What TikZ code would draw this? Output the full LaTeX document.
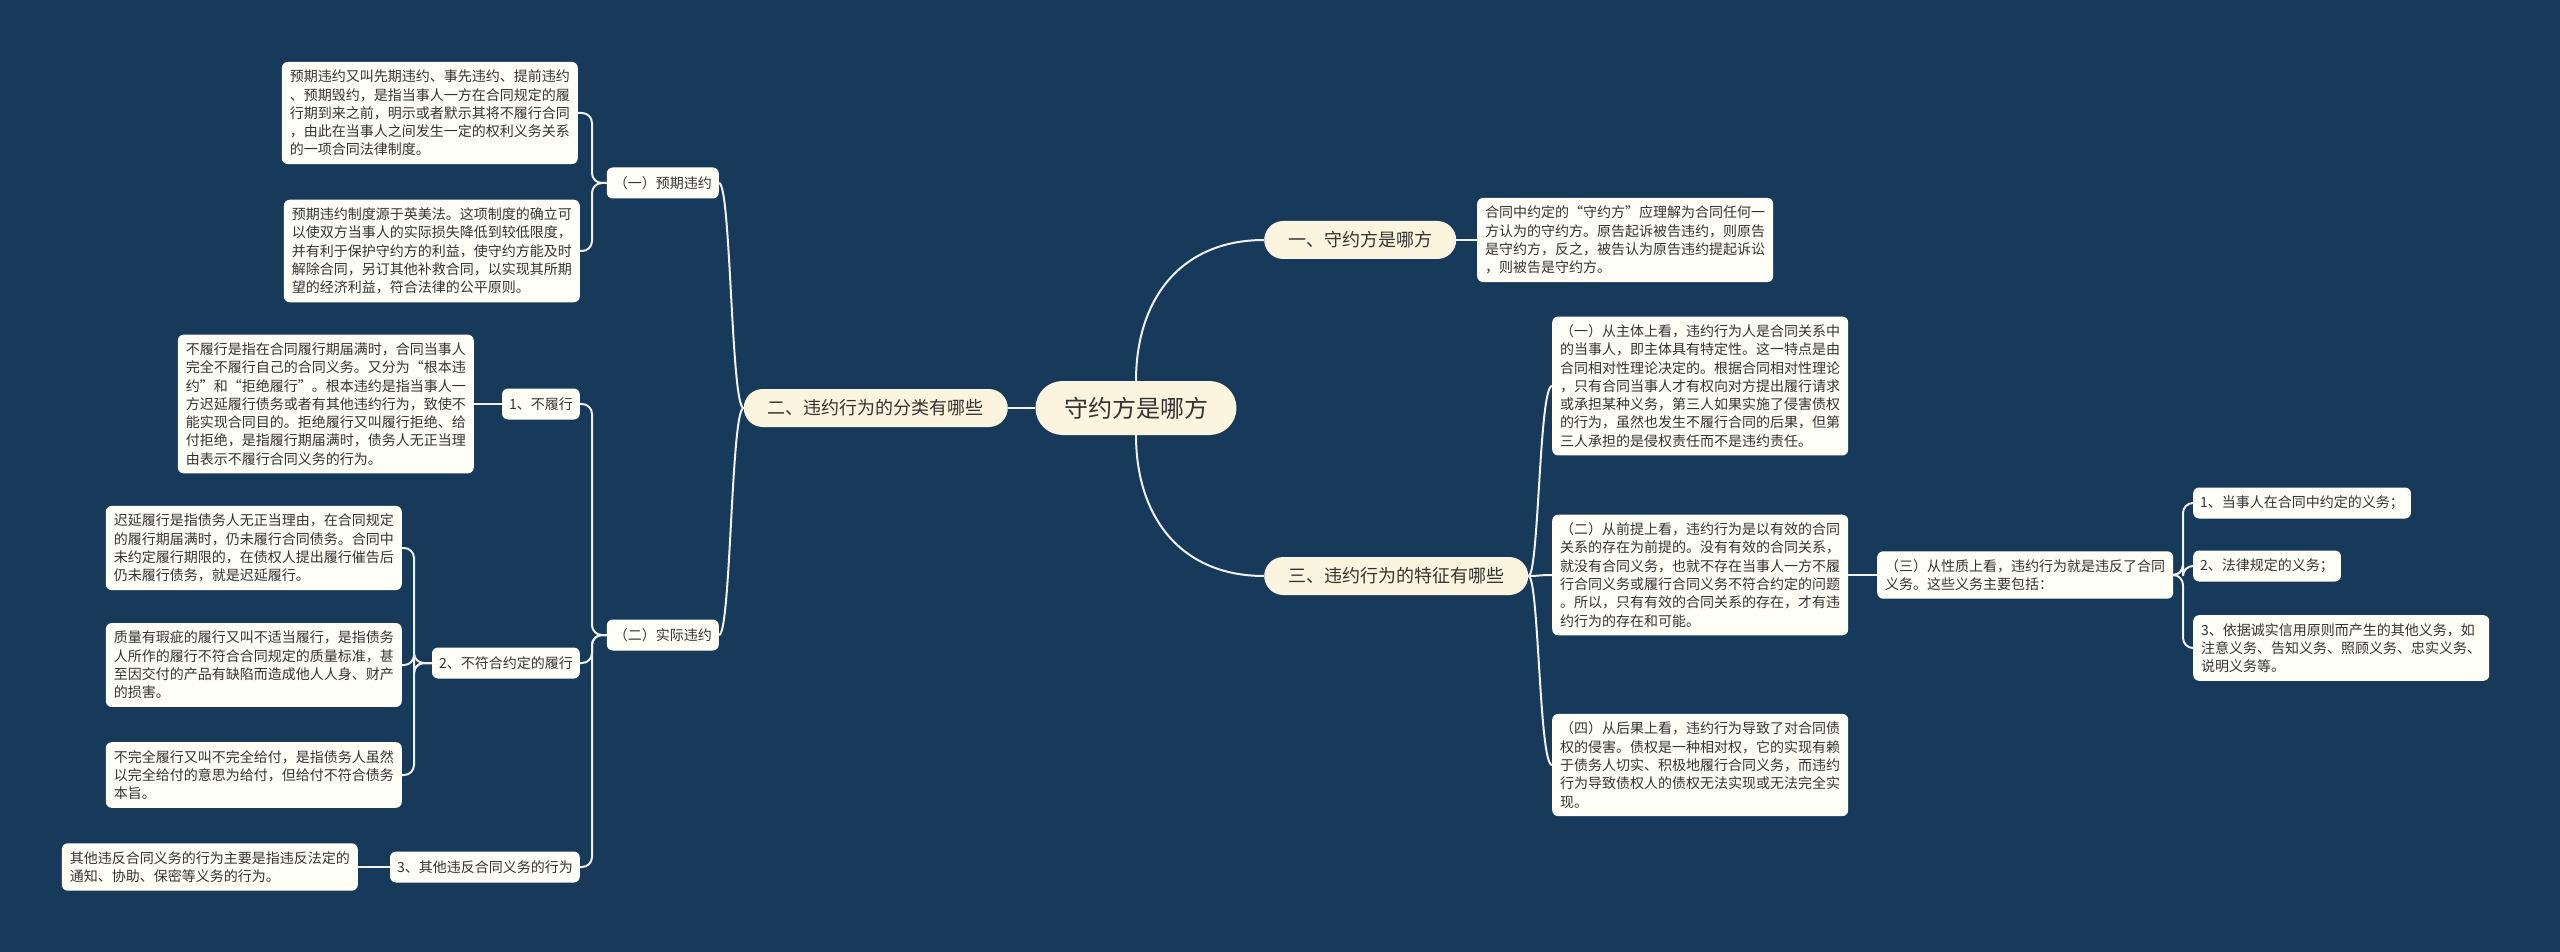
\documentclass[tikz,border=0pt]{standalone}
\usepackage{fontspec}
\setmainfont{Noto Sans CJK SC}
\newfontfamily\fwfont[RawFeature=+fwid]{Noto Sans CJK SC}
\newcommand\myqo{{\fwfont “}}
\newcommand\myqc{{\fwfont ”}}
\definecolor{bg}{HTML}{173A5B}
\definecolor{linec}{HTML}{F0F0F0}
\definecolor{leaffill}{HTML}{FFFEF7}
\definecolor{lonefill}{HTML}{FBF4DF}
\definecolor{txt}{HTML}{333333}
\begin{document}
\begin{tikzpicture}[x=1pt,y=-1pt,
  leaf/.style={fill=leaffill, rounded corners=6pt, align=left, inner xsep=8pt, inner ysep=8pt, font=\fontsize{14}{18.3}\selectfont, text=txt},
  tag/.style={fill=leaffill, rounded corners=6pt, inner xsep=7pt, minimum height=31pt, font=\fontsize{14}{17}\selectfont, text=txt},
  lvlone/.style={fill=lonefill, rounded corners=19pt, minimum height=38pt, inner xsep=24pt, font=\fontsize{18}{22}\selectfont, text=txt},
  root/.style={fill=lonefill, rounded corners=27pt, minimum height=54pt, minimum width=201pt, font=\fontsize{24}{28}\selectfont, text=txt},
  conn/.style={draw=linec, line width=2pt},
  bracket/.style={conn, rounded corners=10pt}]
\path[fill=bg] (0,0) rectangle (2560,952);

% root and first level
\node[root] (root) at (1136,408) {守约方是哪方};
\node[lvlone, anchor=west] (yi) at (1264,240) {一、守约方是哪方};
\node[lvlone, anchor=west] (san) at (1264,576) {三、违约行为的特征有哪些};
\node[lvlone, anchor=east] (er) at (1008,408) {二、违约行为的分类有哪些};

% right branch: 一
\node[leaf, anchor=west] (yileaf) at (1477,240) {合同中约定的\myqo 守约方\myqc 应理解为合同任何一\\方认为的守约方。原告起诉被告违约，则原告\\是守约方，反之，被告认为原告违约提起诉讼\\，则被告是守约方。};

% right branch: 三
\node[leaf, anchor=west] (ca) at (1552,386) {（一）从主体上看，违约行为人是合同关系中\\的当事人，即主体具有特定性。这一特点是由\\合同相对性理论决定的。根据合同相对性理论\\，只有合同当事人才有权向对方提出履行请求\\或承担某种义务，第三人如果实施了侵害债权\\的行为，虽然也发生不履行合同的后果，但第\\三人承担的是侵权责任而不是违约责任。};
\node[leaf, anchor=west] (cb) at (1552,575) {（二）从前提上看，违约行为是以有效的合同\\关系的存在为前提的。没有有效的合同关系，\\就没有合同义务，也就不存在当事人一方不履\\行合同义务或履行合同义务不符合约定的问题\\。所以，只有有效的合同关系的存在，才有违\\约行为的存在和可能。};
\node[leaf, anchor=west] (cd) at (1552,765) {（四）从后果上看，违约行为导致了对合同债\\权的侵害。债权是一种相对权，它的实现有赖\\于债务人切实、积极地履行合同义务，而违约\\行为导致债权人的债权无法实现或无法完全实\\现。};
\node[leaf, anchor=west] (cc) at (1877,575) {（三）从性质上看，违约行为就是违反了合同\\义务。这些义务主要包括：};
\node[tag, anchor=west] (ra) at (2193,503) {1、当事人在合同中约定的义务；};
\node[tag, anchor=west] (rb) at (2193,566) {2、法律规定的义务；};
\node[leaf, anchor=west] (rc) at (2193,648) {3、依据诚实信用原则而产生的其他义务，如\\注意义务、告知义务、照顾义务、忠实义务、\\说明义务等。};

% left branch
\node[tag, anchor=east] (yuqi) at (719,183) {（一）预期违约};
\node[tag, anchor=east] (shiji) at (719,635) {（二）实际违约};
\node[leaf, anchor=east] (la) at (578,113) {预期违约又叫先期违约、事先违约、提前违约\\、预期毁约，是指当事人一方在合同规定的履\\行期到来之前，明示或者默示其将不履行合同\\，由此在当事人之间发生一定的权利义务关系\\的一项合同法律制度。};
\node[leaf, anchor=east] (lb) at (580,251) {预期违约制度源于英美法。这项制度的确立可\\以使双方当事人的实际损失降低到较低限度，\\并有利于保护守约方的利益，使守约方能及时\\解除合同，另订其他补救合同，以实现其所期\\望的经济利益，符合法律的公平原则。};
\node[tag, anchor=east] (bulu) at (580,404) {1、不履行};
\node[leaf, anchor=east] (lc) at (474,404) {不履行是指在合同履行期届满时，合同当事人\\完全不履行自己的合同义务。又分为\myqo 根本违\\约\myqc 和\myqo 拒绝履行\myqc 。根本违约是指当事人一\\方迟延履行债务或者有其他违约行为，致使不\\能实现合同目的。拒绝履行又叫履行拒绝、给\\付拒绝，是指履行期届满时，债务人无正当理\\由表示不履行合同义务的行为。};
\node[tag, anchor=east] (bufu) at (580,663) {2、不符合约定的履行};
\node[leaf, anchor=east] (ld) at (402,548) {迟延履行是指债务人无正当理由，在合同规定\\的履行期届满时，仍未履行合同债务。合同中\\未约定履行期限的，在债权人提出履行催告后\\仍未履行债务，就是迟延履行。};
\node[leaf, anchor=east] (le) at (402,665) {质量有瑕疵的履行又叫不适当履行，是指债务\\人所作的履行不符合合同规定的质量标准，甚\\至因交付的产品有缺陷而造成他人人身、财产\\的损害。};
\node[leaf, anchor=east] (lf) at (402,775) {不完全履行又叫不完全给付，是指债务人虽然\\以完全给付的意思为给付，但给付不符合债务\\本旨。};
\node[tag, anchor=east] (qita) at (580,867) {3、其他违反合同义务的行为};
\node[leaf, anchor=east] (lg) at (358,867) {其他违反合同义务的行为主要是指违反法定的\\通知、协助、保密等义务的行为。};

% connectors: root
\draw[conn] (root.north) .. controls (1136,300) and (1180,240) .. (yi.west);
\draw[conn] (root.south) .. controls (1136,516) and (1180,576) .. (san.west);
\draw[conn] (root.west) -- (er.east);
\draw[conn] (yi.east) -- (yileaf.west);

% 三 children
\draw[conn] (san.east) .. controls (1539,576) and (1539,386) .. (ca.west);
\draw[conn] (san.east) .. controls (1539,576) and (1539,575) .. (cb.west);
\draw[conn] (san.east) .. controls (1539,576) and (1539,765) .. (cd.west);
\draw[conn] (cb.east) -- (cc.west);
\draw[bracket] (cc.east) -- (2183,575) |- (ra.west);
\draw[bracket] (cc.east) -- (2183,575) |- (rb.west);
\draw[bracket] (cc.east) -- (2183,575) |- (rc.west);

% 二 children
\draw[conn] (er.west) .. controls (731,408) and (731,183) .. (yuqi.east);
\draw[conn] (er.west) .. controls (731,408) and (731,635) .. (shiji.east);
\draw[bracket] (yuqi.west) -- (592,183) |- (la.east);
\draw[bracket] (yuqi.west) -- (592,183) |- (lb.east);
\draw[bracket] (shiji.west) -- (592,635) |- (bulu.east);
\draw[bracket] (shiji.west) -- (592,635) |- (bufu.east);
\draw[bracket] (shiji.west) -- (592,635) |- (qita.east);
\draw[conn] (bulu.west) -- (lc.east);
\draw[bracket] (bufu.west) -- (414,663) |- (ld.east);
\draw[bracket] (bufu.west) -- (414,663) |- (le.east);
\draw[bracket] (bufu.west) -- (414,663) |- (lf.east);
\draw[conn] (qita.west) -- (lg.east);
\end{tikzpicture}
\end{document}
